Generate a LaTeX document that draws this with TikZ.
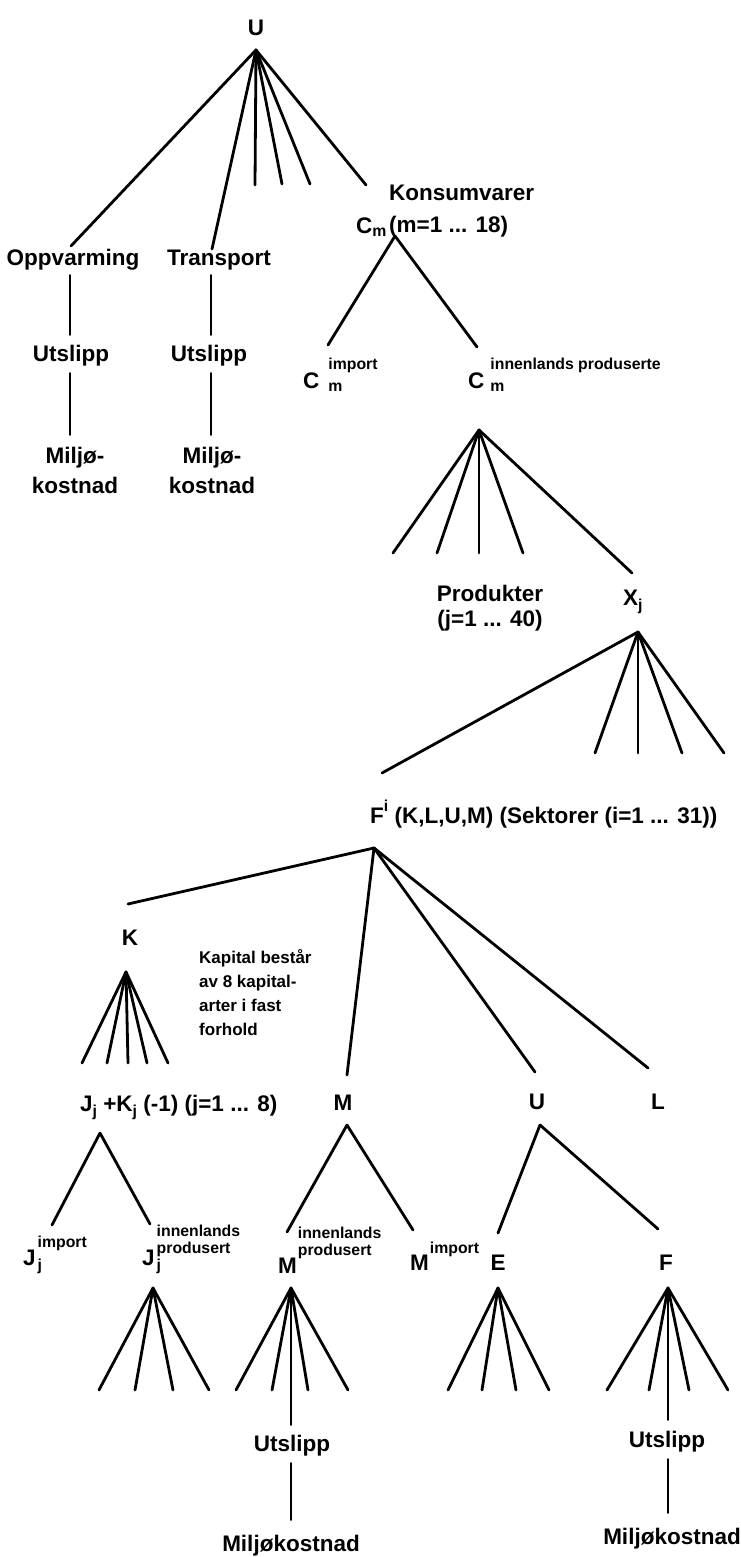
\documentclass[tikz,border=0pt]{standalone}
\usepackage{fontspec}
\setmainfont{Liberation Sans}
\usepackage{tikz}
\usetikzlibrary{calc}
\newcommand{\bigfnt}{\fontsize{22.5}{30}\selectfont\bfseries}
\newcommand{\scrfnt}{\fontsize{15.8}{17}\selectfont\bfseries}
\newcommand{\notefnt}{\fontsize{17}{24}\selectfont\bfseries}
\newcommand{\supsub}[3][19pt]{\rlap{\raisebox{#1}{\scrfnt #2}}#3}
\newcommand{\lowm}{\raisebox{-3pt}{\scrfnt m}}
\newcommand{\lowj}{\raisebox{-5pt}{\scrfnt j}}
\newcommand{\twolines}[1]{{\scrfnt\begin{tabular}[b]{@{}l@{}}innenlands\\#1\end{tabular}}}

\begin{document}
\begin{tikzpicture}[x=1pt, y=-1pt, line cap=round, every node/.style={inner sep=0pt}]
    \tikzset{lbl/.style={font=\bigfnt, text height=16.1pt, text depth=0pt},
             multi/.style={font=\bigfnt, align=center, anchor=north},
             branch/.style={line width=2.8pt},
             stem/.style={line width=1.9pt}}
    \fill[white] (0,0) rectangle (741,1557);

    \node[lbl] (top) at (256,27) {U};
    \node[lbl] (opp) at (73,257) {Oppvarming};
    \node[lbl] (trans) at (219,257) {Transport};
    \node[lbl, anchor=west] (cm) at (356,225) {C\lowm};
    \node[multi, align=left, anchor=north west, font=\fontsize{22.5}{32}\selectfont\bfseries] (kons) at (389,185) {Konsumvarer\\(m=1 ... 18)};
    \node[lbl] (utsl1) at (71,353) {Utslipp};
    \node[lbl] (utsl2) at (209,353) {Utslipp};
    \node[multi] (milj1) at (75,447) {Miljø-\\kostnad};
    \node[multi] (milj2) at (212,447) {Miljø-\\kostnad};
    \node[lbl, anchor=west] (cimp) at (303,380) {C\hspace{9pt}\supsub{import}{\lowm}};
    \node[lbl, anchor=west] (cinn) at (468,380) {C\hspace{6pt}\supsub{innenlands produserte}{\lowm}};
    \node[multi, font=\fontsize{22.5}{25}\selectfont\bfseries] (prod) at (490,585) {Produkter\\(j=1 ... 40)};
    \node[lbl, anchor=west] (xj) at (623,597) {X\lowj};
    \node[lbl, anchor=west] (fsek) at (370,815) {F\raisebox{12pt}{\scrfnt i} (K,L,U,M) (Sektorer (i=1 ... 31))};
    \node[lbl] (kap) at (130,937) {K};
    \node[multi, align=left, anchor=north west, font=\notefnt] (note) at (199,949) {Kapital består\\av 8 kapital-\\arter i fast\\forhold};
    \node[lbl, anchor=west] (jk) at (80,1103) {J\lowj{} +K\lowj{} (-1) (j=1 ... 8)};
    \node[lbl] (mm) at (343,1102) {M};
    \node[lbl] (uu) at (537,1101) {U};
    \node[lbl] (ll) at (658,1101) {L};
    \node[lbl, anchor=west] (jimp) at (23,1257) {J\hspace{2pt}\supsub[17.5pt]{import}{\lowj}};
    \node[lbl, anchor=west] (jinn) at (142,1257) {J\hspace{2pt}\supsub[11.6pt]{\twolines{produsert}}{\lowj}};
    \node[lbl, anchor=west] (minn) at (278,1265) {M\hspace{1pt}\raisebox{17.6pt}{\twolines{produsert}}};
    \node[lbl, anchor=west] (mimp) at (410,1262) {M\hspace{1pt}\raisebox{16.6pt}{\scrfnt import}};
    \node[lbl] (ee) at (498,1262) {E};
    \node[lbl] (ff) at (666,1262) {F};
    \node[lbl] (utsl3) at (292,1443) {Utslipp};
    \node[lbl] (utsl4) at (667,1439) {Utslipp};
    \node[lbl] (milj3) at (291,1543) {Miljøkostnad};
    \node[lbl] (milj4) at (672,1536) {Miljøkostnad};

    \foreach \n/\x/\y in {topA/256/50, oppT/71/246, transT/212/249, t1/255/185, t2/282/184, t3/310/184,
                          cmT/366/185, cmA/395/236, cimpT/328/345, cinnT/477/347, cinnA/479/430,
                          p1/393/553, p2/437/553, p3/479/553, p4/523/553, xjT/632/573,
                          xA/638/632, fT/382/773, q1/595/753, q2/638/753, q3/682/753, q4/724/753,
                          fA/374/848, kT/128/904, mT/347/1075, uT/535/1072, lT/648/1068,
                          kA/126/972, k1/82/1063, k2/107/1063, k3/128/1063, k4/147/1063, k5/168/1063,
                          jkA/100/1133, jimpT/52/1225, jinnT/150/1224,
                          mA/347/1125, minnT/287/1232, mimpT/413/1230,
                          uA/540/1125, eT/498/1233, ffT/658/1229}
      \coordinate (\n) at (\x,\y);
    \foreach \ap/\x/\xs in {jf/153/{99,135,173,209}, mf/291/{236,272,308,348},
                            ef/498/{448,482,516,549}, ff/668/{607,649,689,728}}
    {
      \coordinate (\ap-a) at (\x,1288);
      \foreach \e [count=\i] in \xs
        \coordinate (\ap-\i) at (\e,1390);
    }
    \foreach \n/\x/\y in {s1a/70/275, s1b/70/335, s1c/70/373, s1d/70/435,
                          s2a/211/275, s2b/211/335, s2c/211/373, s2d/211/435,
                          mfD/291/1425, s3a/291/1463, s3b/291/1520,
                          ffD/668/1420, s4a/668/1459, s4b/668/1513}
      \coordinate (\n) at (\x,\y);

    \foreach \a/\b in {topA/oppT, topA/transT, topA/t1, topA/t2, topA/t3, topA/cmT,
                       cmA/cimpT, cmA/cinnT, cinnA/p1, cinnA/p2, cinnA/p3, cinnA/p4, cinnA/xjT,
                       xA/fT, xA/q1, xA/q2, xA/q3, xA/q4, fA/kT, fA/mT, fA/uT, fA/lT,
                       kA/k1, kA/k2, kA/k3, kA/k4, kA/k5, jkA/jimpT, jkA/jinnT,
                       mA/minnT, mA/mimpT, uA/eT, uA/ffT}
      \draw[branch] (\a) -- (\b);
    \foreach \ap in {jf, mf, ef, ff}
      \foreach \i in {1,...,4}
        \draw[branch] (\ap-a) -- (\ap-\i);
    \foreach \a/\b in {s1a/s1b, s1c/s1d, s2a/s2b, s2c/s2d, mf-a/mfD, s3a/s3b, ff-a/ffD, s4a/s4b}
      \draw[stem] (\a) -- (\b);
\end{tikzpicture}
\end{document}
